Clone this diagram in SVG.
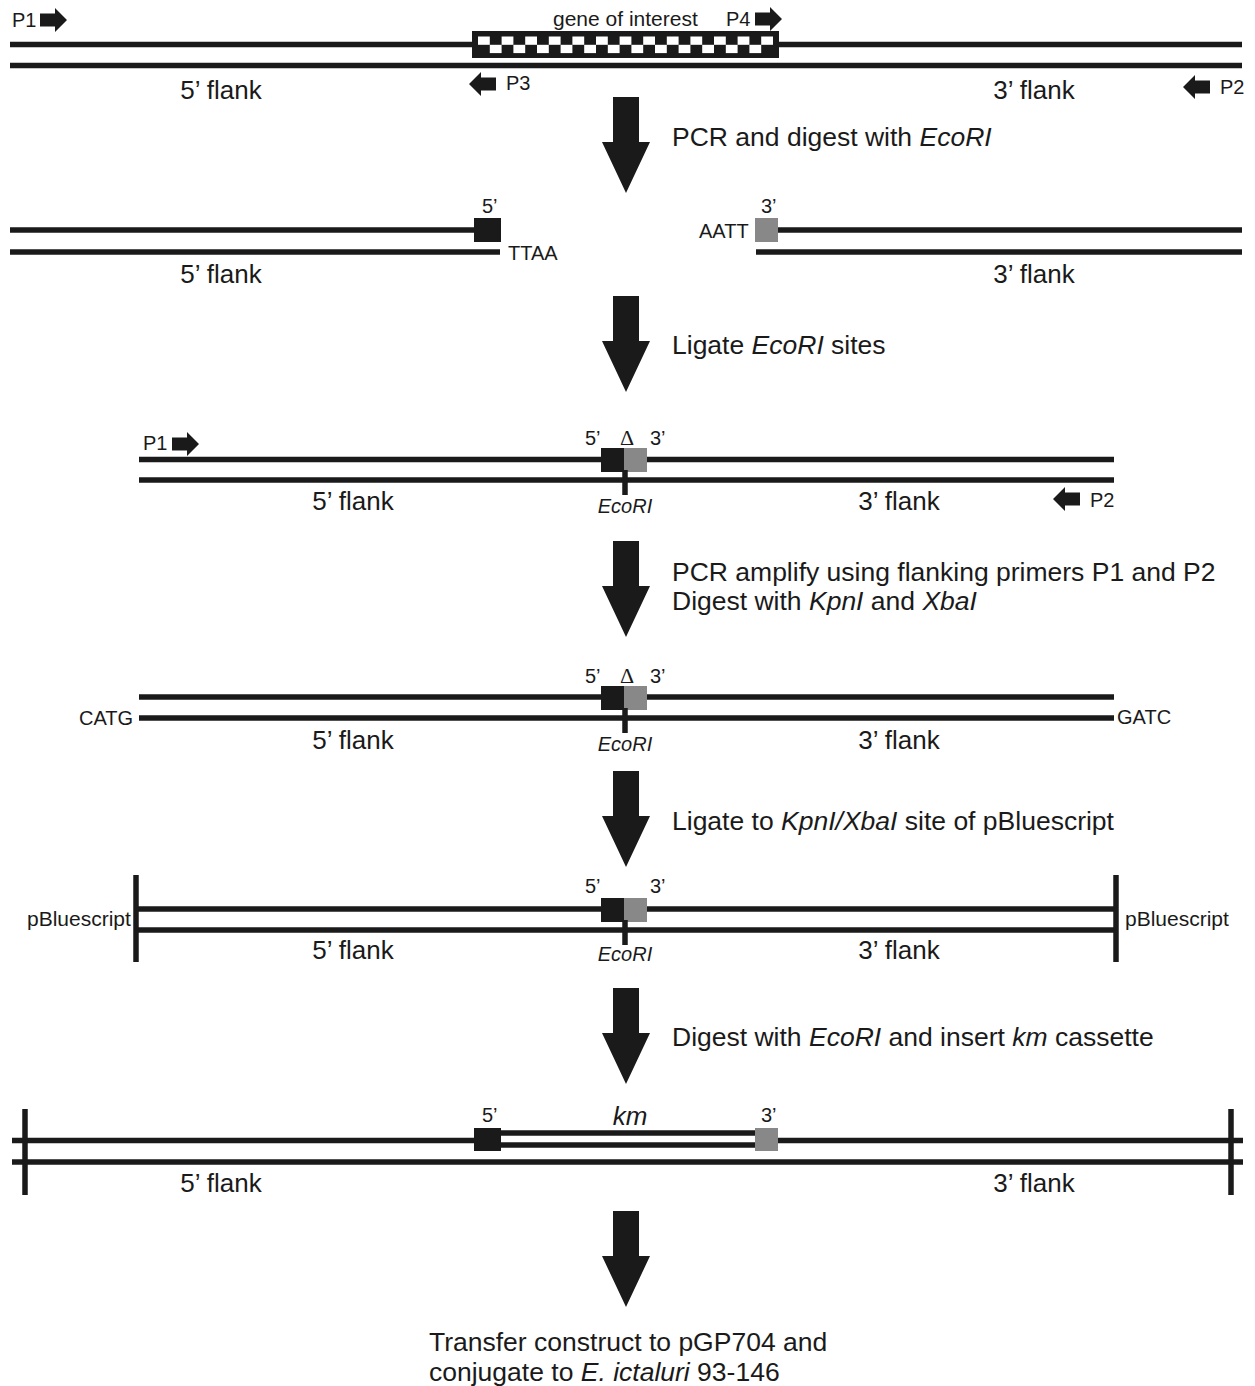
<svg xmlns="http://www.w3.org/2000/svg" width="1255" height="1386" viewBox="0 0 1255 1386">
<style>
.s{stroke:#1a1a1a;stroke-width:5.5;fill:none}
.bar{stroke:#1a1a1a;stroke-width:5.5}
.t{font-family:"Liberation Sans",Arial,sans-serif;fill:#1a1a1a}
.sm{font-size:20px}
.fl{font-size:26px;text-anchor:middle}
.st{font-size:26.5px}
.it{font-style:italic}
.blk{fill:#1a1a1a}
.gry{fill:#888888}
.big{fill:#1a1a1a}
</style>
<defs>
<path id="ra" d="M0,-6.5 H15 V-12 L27,0 L15,12 V6.5 H0 Z" fill="#1a1a1a"/>
<path id="la" d="M27,-6.5 H12 V-12 L0,0 L12,12 V6.5 H27 Z" fill="#1a1a1a"/>
<path id="bigarrow" d="M-13,0 H13 V45 H24 L0,96 L-24,45 H-13 Z" fill="#1a1a1a"/>
</defs>

<!-- Row 1 -->
<g id="row1">
<line class="s" x1="10" y1="44.5" x2="1242" y2="44.5"/>
<line class="s" x1="10" y1="65.5" x2="1242" y2="65.5"/>
<g id="gene">
<rect x="472" y="31" width="307" height="27" class="blk"/>
<g fill="#ffffff">
<rect x="478" y="36.5" width="11.8" height="8.3"/>
<rect x="501.6" y="36.5" width="11.8" height="8.3"/>
<rect x="525.2" y="36.5" width="11.8" height="8.3"/>
<rect x="548.8" y="36.5" width="11.8" height="8.3"/>
<rect x="572.4" y="36.5" width="11.8" height="8.3"/>
<rect x="596" y="36.5" width="11.8" height="8.3"/>
<rect x="619.6" y="36.5" width="11.8" height="8.3"/>
<rect x="643.2" y="36.5" width="11.8" height="8.3"/>
<rect x="666.8" y="36.5" width="11.8" height="8.3"/>
<rect x="690.4" y="36.5" width="11.8" height="8.3"/>
<rect x="714" y="36.5" width="11.8" height="8.3"/>
<rect x="737.6" y="36.5" width="11.8" height="8.3"/>
<rect x="761.2" y="36.5" width="11.8" height="8.3"/>
<rect x="489.8" y="44.8" width="11.8" height="8.3"/>
<rect x="513.4" y="44.8" width="11.8" height="8.3"/>
<rect x="537" y="44.8" width="11.8" height="8.3"/>
<rect x="560.6" y="44.8" width="11.8" height="8.3"/>
<rect x="584.2" y="44.8" width="11.8" height="8.3"/>
<rect x="607.8" y="44.8" width="11.8" height="8.3"/>
<rect x="631.4" y="44.8" width="11.8" height="8.3"/>
<rect x="655" y="44.8" width="11.8" height="8.3"/>
<rect x="678.6" y="44.8" width="11.8" height="8.3"/>
<rect x="702.2" y="44.8" width="11.8" height="8.3"/>
<rect x="725.8" y="44.8" width="11.8" height="8.3"/>
<rect x="749.4" y="44.8" width="11.8" height="8.3"/>
</g>
<text class="t" x="553" y="26" font-size="21">gene of interest</text>
</g>
<g id="p1a"><text class="t sm" x="12" y="27">P1</text><use href="#ra" x="40" y="20"/></g>
<g id="p4"><text class="t sm" x="726" y="26">P4</text><use href="#ra" x="755" y="19"/></g>
<g id="p3"><use href="#la" x="469" y="84"/><text class="t sm" x="506" y="90">P3</text></g>
<g id="p2a"><use href="#la" x="1183" y="87"/><text class="t sm" x="1220" y="94">P2</text></g>
<text class="t fl" x="221" y="99">5’ flank</text>
<text class="t fl" x="1034" y="99">3’ flank</text>
</g>

<!-- Row 2 -->
<g id="row2">
<line class="s" x1="10" y1="230" x2="475" y2="230"/>
<line class="s" x1="10" y1="252" x2="500" y2="252"/>
<rect x="474" y="218" width="27" height="24" class="blk"/>
<text class="t sm" x="482" y="213">5’</text>
<text class="t sm" x="508" y="260">TTAA</text>
<line class="s" x1="776" y1="230" x2="1242" y2="230"/>
<line class="s" x1="756" y1="252" x2="1242" y2="252"/>
<rect x="755" y="218" width="23" height="24" class="gry"/>
<text class="t sm" x="761" y="213">3’</text>
<text class="t sm" x="699" y="238">AATT</text>
<text class="t fl" x="221" y="283">5’ flank</text>
<text class="t fl" x="1034" y="283">3’ flank</text>
</g>

<!-- Row 3 -->
<g id="row3">
<line class="s" x1="139" y1="459.5" x2="1114" y2="459.5"/>
<line class="s" x1="139" y1="480" x2="1114" y2="480"/>
<rect x="601" y="448" width="24" height="24" class="blk"/>
<rect x="624" y="448" width="23" height="24" class="gry"/>
<line class="bar" x1="625" y1="470" x2="625" y2="495" stroke-width="3"/>
<text class="t sm" x="585" y="445">5’</text>
<text x="627" y="445" font-family="'Liberation Serif',serif" font-size="22" text-anchor="middle" fill="#1a1a1a">Δ</text>
<text class="t sm" x="650" y="445">3’</text>
<text class="t sm it" x="625" y="513" text-anchor="middle">EcoRI</text>
<g id="p1b"><text class="t sm" x="143" y="450">P1</text><use href="#ra" x="172" y="444"/></g>
<g id="p2b"><use href="#la" x="1053" y="499"/><text class="t sm" x="1090" y="507">P2</text></g>
<text class="t fl" x="353" y="510">5’ flank</text>
<text class="t fl" x="899" y="510">3’ flank</text>
</g>

<!-- Row 4 -->
<g id="row4">
<line class="s" x1="139" y1="697" x2="1114" y2="697"/>
<line class="s" x1="139" y1="718" x2="1114" y2="718"/>
<rect x="601" y="686" width="24" height="24" class="blk"/>
<rect x="624" y="686" width="23" height="24" class="gry"/>
<line class="bar" x1="625" y1="708" x2="625" y2="733" stroke-width="3"/>
<text class="t sm" x="585" y="683">5’</text>
<text x="627" y="683" font-family="'Liberation Serif',serif" font-size="22" text-anchor="middle" fill="#1a1a1a">Δ</text>
<text class="t sm" x="650" y="683">3’</text>
<text class="t sm it" x="625" y="751" text-anchor="middle">EcoRI</text>
<text class="t sm" x="79" y="725">CATG</text>
<text class="t sm" x="1117" y="724">GATC</text>
<text class="t fl" x="353" y="749">5’ flank</text>
<text class="t fl" x="899" y="749">3’ flank</text>
</g>

<!-- Row 5 -->
<g id="row5">
<line class="s" x1="136" y1="909" x2="1116" y2="909"/>
<line class="s" x1="136" y1="930" x2="1116" y2="930"/>
<line class="bar" x1="136" y1="875" x2="136" y2="962"/>
<line class="bar" x1="1116" y1="875" x2="1116" y2="962"/>
<rect x="601" y="898" width="24" height="24" class="blk"/>
<rect x="624" y="898" width="23" height="24" class="gry"/>
<line class="bar" x1="625" y1="920" x2="625" y2="945" stroke-width="3"/>
<text class="t sm" x="585" y="893">5’</text>
<text class="t sm" x="650" y="893">3’</text>
<text class="t sm it" x="625" y="961" text-anchor="middle">EcoRI</text>
<text class="t" x="27" y="926" font-size="21">pBluescript</text>
<text class="t" x="1125" y="926" font-size="21">pBluescript</text>
<text class="t fl" x="353" y="959">5’ flank</text>
<text class="t fl" x="899" y="959">3’ flank</text>
</g>

<!-- Row 6 -->
<g id="row6">
<line class="s" x1="12" y1="1140.5" x2="475" y2="1140.5"/>
<line class="s" x1="776" y1="1140.5" x2="1243" y2="1140.5"/>
<line class="s" x1="12" y1="1162" x2="1243" y2="1162"/>
<line class="s" x1="500" y1="1133" x2="756" y2="1133"/>
<line class="s" x1="500" y1="1145" x2="756" y2="1145"/>
<line class="bar" x1="25" y1="1109" x2="25" y2="1195" stroke-width="5"/>
<line class="bar" x1="1231" y1="1109" x2="1231" y2="1195" stroke-width="5"/>
<rect x="474" y="1128" width="27" height="23" class="blk"/>
<rect x="755" y="1128" width="23" height="23" class="gry"/>
<text class="t sm" x="482" y="1122">5’</text>
<text class="t sm" x="761" y="1122">3’</text>
<text class="t it" x="630" y="1125" font-size="26" text-anchor="middle">km</text>
<text class="t fl" x="221" y="1192">5’ flank</text>
<text class="t fl" x="1034" y="1192">3’ flank</text>
</g>

<!-- Connectors -->
<g id="connectors">
<use href="#bigarrow" x="626" y="97"/>
<use href="#bigarrow" x="626" y="296"/>
<use href="#bigarrow" x="626" y="541"/>
<use href="#bigarrow" x="626" y="771"/>
<use href="#bigarrow" x="626" y="988"/>
<use href="#bigarrow" x="626" y="1211"/>
<text class="t st" x="672" y="146">PCR and digest with <tspan class="it">EcoRI</tspan></text>
<text class="t st" x="672" y="354">Ligate <tspan class="it">EcoRI</tspan> sites</text>
<text class="t st" x="672" y="581">PCR amplify using flanking primers P1 and P2</text>
<text class="t st" x="672" y="610">Digest with <tspan class="it">KpnI</tspan> and <tspan class="it">XbaI</tspan></text>
<text class="t st" x="672" y="830">Ligate to <tspan class="it">KpnI/XbaI</tspan> site of pBluescript</text>
<text class="t st" x="672" y="1046">Digest with <tspan class="it">EcoRI</tspan> and insert <tspan class="it">km</tspan> cassette</text>
<text class="t st" x="429" y="1351">Transfer construct to pGP704 and</text>
<text class="t st" x="429" y="1381">conjugate to <tspan class="it">E. ictaluri</tspan> 93-146</text>
</g>
</svg>
